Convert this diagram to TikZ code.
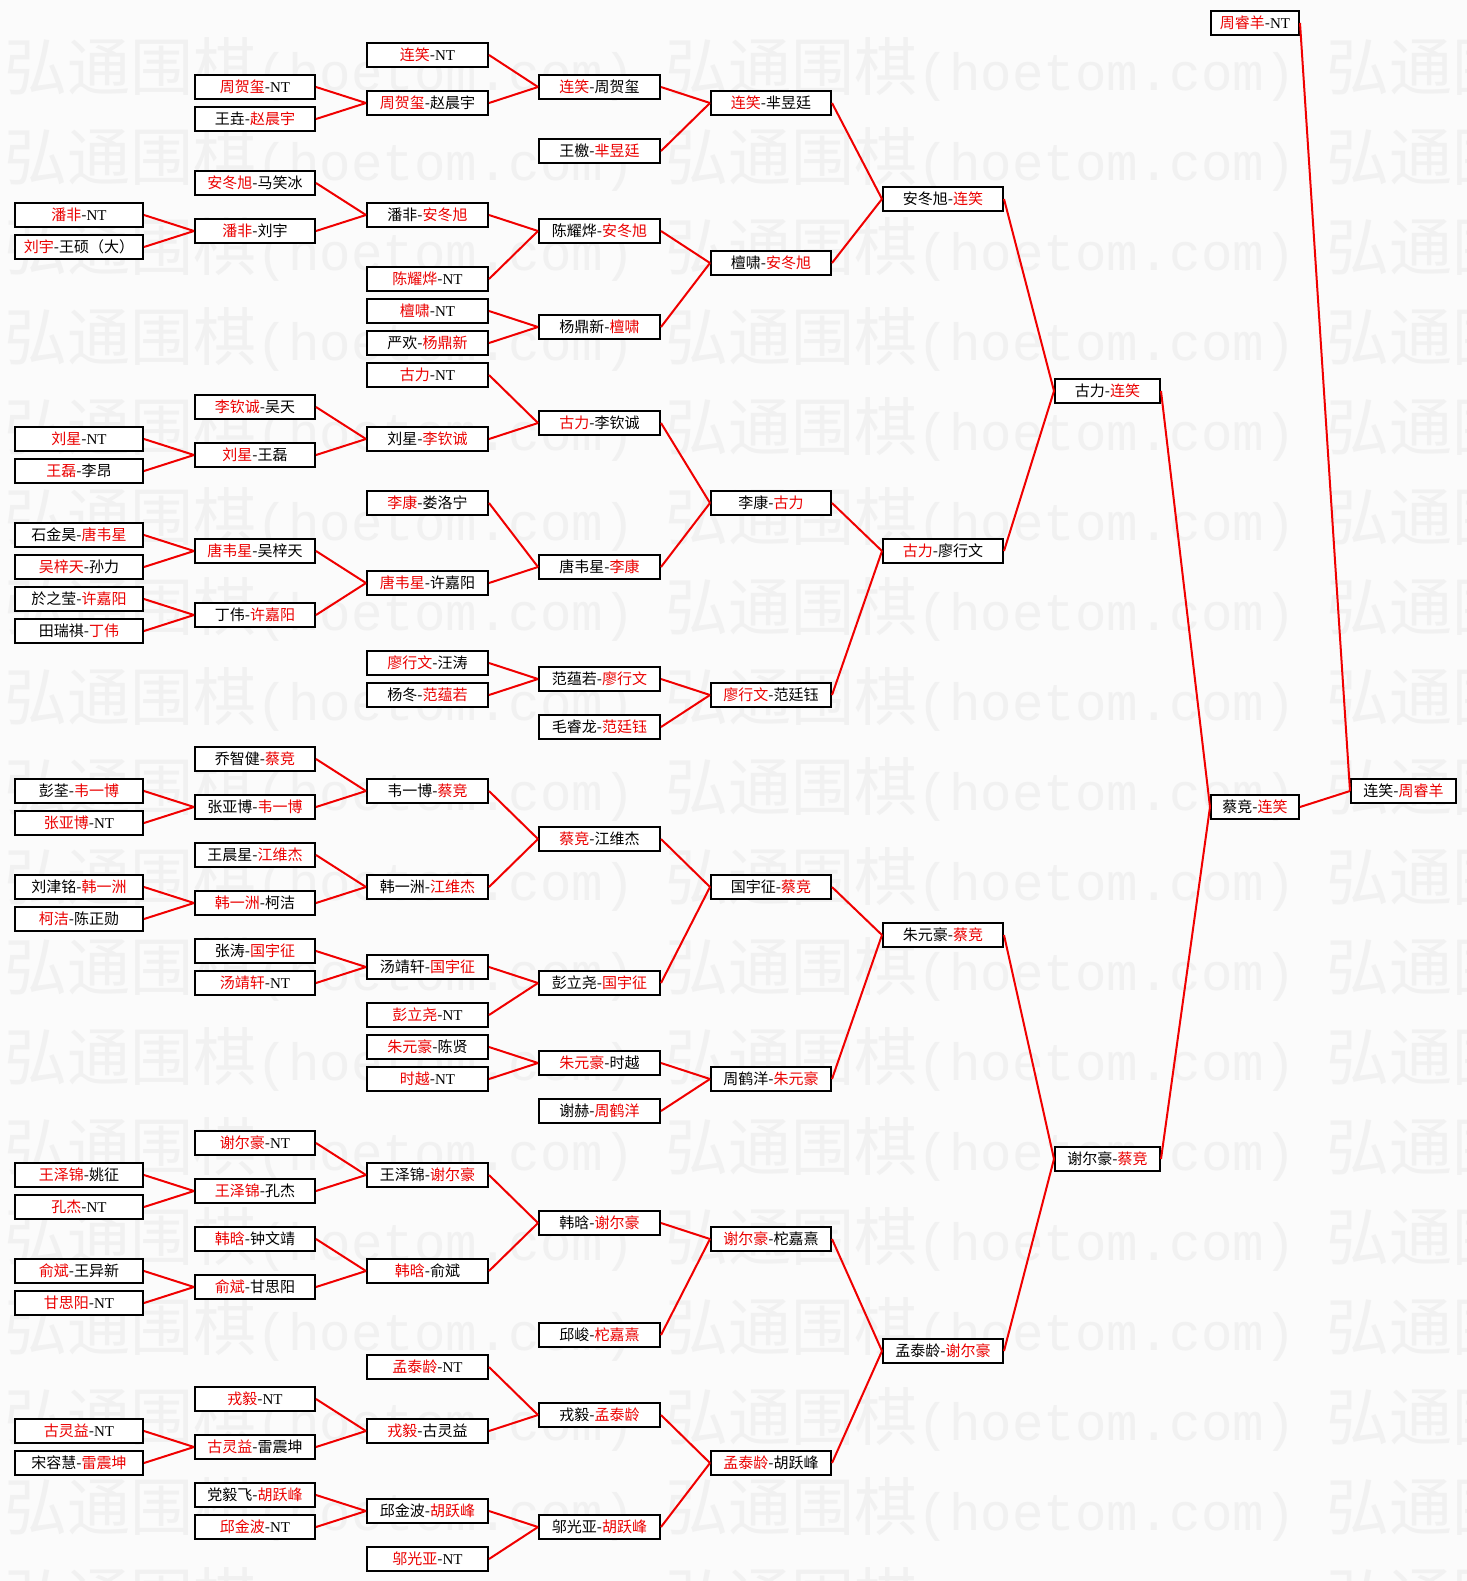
\documentclass[tikz,border=0pt]{standalone}
\usepackage{fontspec}
\setmainfont{Liberation Serif}
\newfontfamily\cjk{Noto Sans CJK SC}
\newfontfamily\wmono{Liberation Mono}
\definecolor{nred}{RGB}{235,0,0}
\definecolor{lred}{RGB}{240,0,0}
\definecolor{bgc}{RGB}{251,251,251}
\definecolor{wmk}{RGB}{241,241,241}
\newcommand\R[1]{\textcolor{nred}{#1}}
\newcommand\NT{{\rmfamily NT}}
\begin{document}
\begin{tikzpicture}[x=0.5pt,y=-0.5pt,
  box/.style={draw=black, line width=1pt, fill=white, minimum height=12pt, inner sep=0pt,
    text height=6.5pt, text depth=1pt, font=\cjk\fontsize{7.5pt}{9pt}\selectfont},
  c0/.style={box, minimum width=64pt},
  c1/.style={box, minimum width=60pt},
  c2/.style={box, minimum width=60.5pt},
  c3/.style={box, minimum width=60.5pt},
  c4/.style={box, minimum width=60pt},
  c5/.style={box, minimum width=60pt},
  c6/.style={box, minimum width=52.5pt},
  c7/.style={box, minimum width=44pt},
  c8/.style={box, minimum width=52.5pt},
  conn/.style={draw=lred, line width=1pt},
  wmc/.style={inner sep=0pt, anchor=base west, text=wmk, font=\cjk\fontsize{31.5pt}{31.5pt}\selectfont},
  wml/.style={inner sep=0pt, anchor=base west, text=wmk, font=\wmono\fontsize{26.25pt}{26.25pt}\selectfont}]
\useasboundingbox (0,0) rectangle (1467,1581);
\fill[bgc] (0,0) rectangle (1467,1581);
% watermark
\begin{scope}
\clip (0,0) rectangle (1467,1581);
\foreach \j in {0,...,17}{
  \foreach \n in {0,1,2}{
    \node[wmc] at ({4.5+661*\n},{90+90*\j}) {弘通围棋};
    \node[wml] at ({256.5+661*\n},{90+90*\j}) {(hoetom.com)};
  }
}
\end{scope}
% column 0
\node[c0] (A10) at (79,{55+16*10}) {\R{潘非}-\NT};
\node[c0] (A12) at (79,{55+16*12}) {\R{刘宇}-王硕（大）};
\node[c0] (A24) at (79,{55+16*24}) {\R{刘星}-\NT};
\node[c0] (A26) at (79,{55+16*26}) {\R{王磊}-李昂};
\node[c0] (A30) at (79,{55+16*30}) {石金昊-\R{唐韦星}};
\node[c0] (A32) at (79,{55+16*32}) {\R{吴梓天}-孙力};
\node[c0] (A34) at (79,{55+16*34}) {於之莹-\R{许嘉阳}};
\node[c0] (A36) at (79,{55+16*36}) {田瑞祺-\R{丁伟}};
\node[c0] (A46) at (79,{55+16*46}) {彭荃-\R{韦一博}};
\node[c0] (A48) at (79,{55+16*48}) {\R{张亚博}-\NT};
\node[c0] (A52) at (79,{55+16*52}) {刘津铭-\R{韩一洲}};
\node[c0] (A54) at (79,{55+16*54}) {\R{柯洁}-陈正勋};
\node[c0] (A70) at (79,{55+16*70}) {\R{王泽锦}-姚征};
\node[c0] (A72) at (79,{55+16*72}) {\R{孔杰}-\NT};
\node[c0] (A76) at (79,{55+16*76}) {\R{俞斌}-王异新};
\node[c0] (A78) at (79,{55+16*78}) {\R{甘思阳}-\NT};
\node[c0] (A86) at (79,{55+16*86}) {\R{古灵益}-\NT};
\node[c0] (A88) at (79,{55+16*88}) {宋容慧-\R{雷震坤}};
% column 1
\node[c1] (B2) at (255,{55+16*2}) {\R{周贺玺}-\NT};
\node[c1] (B4) at (255,{55+16*4}) {王垚-\R{赵晨宇}};
\node[c1] (B8) at (255,{55+16*8}) {\R{安冬旭}-马笑冰};
\node[c1] (B11) at (255,{55+16*11}) {\R{潘非}-刘宇};
\node[c1] (B22) at (255,{55+16*22}) {\R{李钦诚}-吴天};
\node[c1] (B25) at (255,{55+16*25}) {\R{刘星}-王磊};
\node[c1] (B31) at (255,{55+16*31}) {\R{唐韦星}-吴梓天};
\node[c1] (B35) at (255,{55+16*35}) {丁伟-\R{许嘉阳}};
\node[c1] (B44) at (255,{55+16*44}) {乔智健-\R{蔡竞}};
\node[c1] (B47) at (255,{55+16*47}) {张亚博-\R{韦一博}};
\node[c1] (B50) at (255,{55+16*50}) {王晨星-\R{江维杰}};
\node[c1] (B53) at (255,{55+16*53}) {\R{韩一洲}-柯洁};
\node[c1] (B56) at (255,{55+16*56}) {张涛-\R{国宇征}};
\node[c1] (B58) at (255,{55+16*58}) {\R{汤靖轩}-\NT};
\node[c1] (B68) at (255,{55+16*68}) {\R{谢尔豪}-\NT};
\node[c1] (B71) at (255,{55+16*71}) {\R{王泽锦}-孔杰};
\node[c1] (B74) at (255,{55+16*74}) {\R{韩晗}-钟文靖};
\node[c1] (B77) at (255,{55+16*77}) {\R{俞斌}-甘思阳};
\node[c1] (B84) at (255,{55+16*84}) {\R{戎毅}-\NT};
\node[c1] (B87) at (255,{55+16*87}) {\R{古灵益}-雷震坤};
\node[c1] (B90) at (255,{55+16*90}) {党毅飞-\R{胡跃峰}};
\node[c1] (B92) at (255,{55+16*92}) {\R{邱金波}-\NT};
% column 2
\node[c2] (C0) at (427.5,{55+16*0}) {\R{连笑}-\NT};
\node[c2] (C3) at (427.5,{55+16*3}) {\R{周贺玺}-赵晨宇};
\node[c2] (C10) at (427.5,{55+16*10}) {潘非-\R{安冬旭}};
\node[c2] (C14) at (427.5,{55+16*14}) {\R{陈耀烨}-\NT};
\node[c2] (C16) at (427.5,{55+16*16}) {\R{檀啸}-\NT};
\node[c2] (C18) at (427.5,{55+16*18}) {严欢-\R{杨鼎新}};
\node[c2] (C20) at (427.5,{55+16*20}) {\R{古力}-\NT};
\node[c2] (C24) at (427.5,{55+16*24}) {刘星-\R{李钦诚}};
\node[c2] (C28) at (427.5,{55+16*28}) {\R{李康}-娄洛宁};
\node[c2] (C33) at (427.5,{55+16*33}) {\R{唐韦星}-许嘉阳};
\node[c2] (C38) at (427.5,{55+16*38}) {\R{廖行文}-汪涛};
\node[c2] (C40) at (427.5,{55+16*40}) {杨冬-\R{范蕴若}};
\node[c2] (C46) at (427.5,{55+16*46}) {韦一博-\R{蔡竞}};
\node[c2] (C52) at (427.5,{55+16*52}) {韩一洲-\R{江维杰}};
\node[c2] (C57) at (427.5,{55+16*57}) {汤靖轩-\R{国宇征}};
\node[c2] (C60) at (427.5,{55+16*60}) {\R{彭立尧}-\NT};
\node[c2] (C62) at (427.5,{55+16*62}) {\R{朱元豪}-陈贤};
\node[c2] (C64) at (427.5,{55+16*64}) {\R{时越}-\NT};
\node[c2] (C70) at (427.5,{55+16*70}) {王泽锦-\R{谢尔豪}};
\node[c2] (C76) at (427.5,{55+16*76}) {\R{韩晗}-俞斌};
\node[c2] (C82) at (427.5,{55+16*82}) {\R{孟泰龄}-\NT};
\node[c2] (C86) at (427.5,{55+16*86}) {\R{戎毅}-古灵益};
\node[c2] (C91) at (427.5,{55+16*91}) {邱金波-\R{胡跃峰}};
\node[c2] (C94) at (427.5,{55+16*94}) {\R{邬光亚}-\NT};
% column 3
\node[c3] (D2) at (599.5,{55+16*2}) {\R{连笑}-周贺玺};
\node[c3] (D6) at (599.5,{55+16*6}) {王檄-\R{芈昱廷}};
\node[c3] (D11) at (599.5,{55+16*11}) {陈耀烨-\R{安冬旭}};
\node[c3] (D17) at (599.5,{55+16*17}) {杨鼎新-\R{檀啸}};
\node[c3] (D23) at (599.5,{55+16*23}) {\R{古力}-李钦诚};
\node[c3] (D32) at (599.5,{55+16*32}) {唐韦星-\R{李康}};
\node[c3] (D39) at (599.5,{55+16*39}) {范蕴若-\R{廖行文}};
\node[c3] (D42) at (599.5,{55+16*42}) {毛睿龙-\R{范廷钰}};
\node[c3] (D49) at (599.5,{55+16*49}) {\R{蔡竞}-江维杰};
\node[c3] (D58) at (599.5,{55+16*58}) {彭立尧-\R{国宇征}};
\node[c3] (D63) at (599.5,{55+16*63}) {\R{朱元豪}-时越};
\node[c3] (D66) at (599.5,{55+16*66}) {谢赫-\R{周鹤洋}};
\node[c3] (D73) at (599.5,{55+16*73}) {韩晗-\R{谢尔豪}};
\node[c3] (D80) at (599.5,{55+16*80}) {邱峻-\R{柁嘉熹}};
\node[c3] (D85) at (599.5,{55+16*85}) {戎毅-\R{孟泰龄}};
\node[c3] (D92) at (599.5,{55+16*92}) {邬光亚-\R{胡跃峰}};
% column 4
\node[c4] (E3) at (771,{55+16*3}) {\R{连笑}-芈昱廷};
\node[c4] (E13) at (771,{55+16*13}) {檀啸-\R{安冬旭}};
\node[c4] (E28) at (771,{55+16*28}) {李康-\R{古力}};
\node[c4] (E40) at (771,{55+16*40}) {\R{廖行文}-范廷钰};
\node[c4] (E52) at (771,{55+16*52}) {国宇征-\R{蔡竞}};
\node[c4] (E64) at (771,{55+16*64}) {周鹤洋-\R{朱元豪}};
\node[c4] (E74) at (771,{55+16*74}) {\R{谢尔豪}-柁嘉熹};
\node[c4] (E88) at (771,{55+16*88}) {\R{孟泰龄}-胡跃峰};
% column 5
\node[c5] (F9) at (943,{55+16*9}) {安冬旭-\R{连笑}};
\node[c5] (F31) at (943,{55+16*31}) {\R{古力}-廖行文};
\node[c5] (F55) at (943,{55+16*55}) {朱元豪-\R{蔡竞}};
\node[c5] (F81) at (943,{55+16*81}) {孟泰龄-\R{谢尔豪}};
% column 6
\node[c6] (G21) at (1107.5,{55+16*21}) {古力-\R{连笑}};
\node[c6] (G69) at (1107.5,{55+16*69}) {谢尔豪-\R{蔡竞}};
% column 7
\node[c7] (Hm2) at (1255,{55-16*2}) {\R{周睿羊}-\NT};
\node[c7] (H47) at (1255,{55+16*47}) {蔡竞-\R{连笑}};
% final
\node[c8] (I46) at (1403.5,{55+16*46}) {连笑-\R{周睿羊}};
% connectors
\foreach \a/\b in {A10/B11,A12/B11,A24/B25,A26/B25,A30/B31,A32/B31,A34/B35,A36/B35,
  A46/B47,A48/B47,A52/B53,A54/B53,A70/B71,A72/B71,A76/B77,A78/B77,A86/B87,A88/B87,
  B2/C3,B4/C3,B8/C10,B11/C10,B22/C24,B25/C24,B31/C33,B35/C33,B44/C46,B47/C46,
  B50/C52,B53/C52,B56/C57,B58/C57,B68/C70,B71/C70,B74/C76,B77/C76,B84/C86,B87/C86,
  B90/C91,B92/C91,
  C0/D2,C3/D2,C10/D11,C14/D11,C16/D17,C18/D17,C20/D23,C24/D23,C28/D32,C33/D32,
  C38/D39,C40/D39,C46/D49,C52/D49,C57/D58,C60/D58,C62/D63,C64/D63,C70/D73,C76/D73,
  C82/D85,C86/D85,C91/D92,C94/D92,
  D2/E3,D6/E3,D11/E13,D17/E13,D23/E28,D32/E28,D39/E40,D42/E40,D49/E52,D58/E52,
  D63/E64,D66/E64,D73/E74,D80/E74,D85/E88,D92/E88,
  E3/F9,E13/F9,E28/F31,E40/F31,E52/F55,E64/F55,E74/F81,E88/F81,
  F9/G21,F31/G21,F55/G69,F81/G69,
  G21/H47,G69/H47,H47/I46,Hm2/I46}
  \draw[conn] (\a.east) -- (\b.west);
\end{tikzpicture}
\end{document}
